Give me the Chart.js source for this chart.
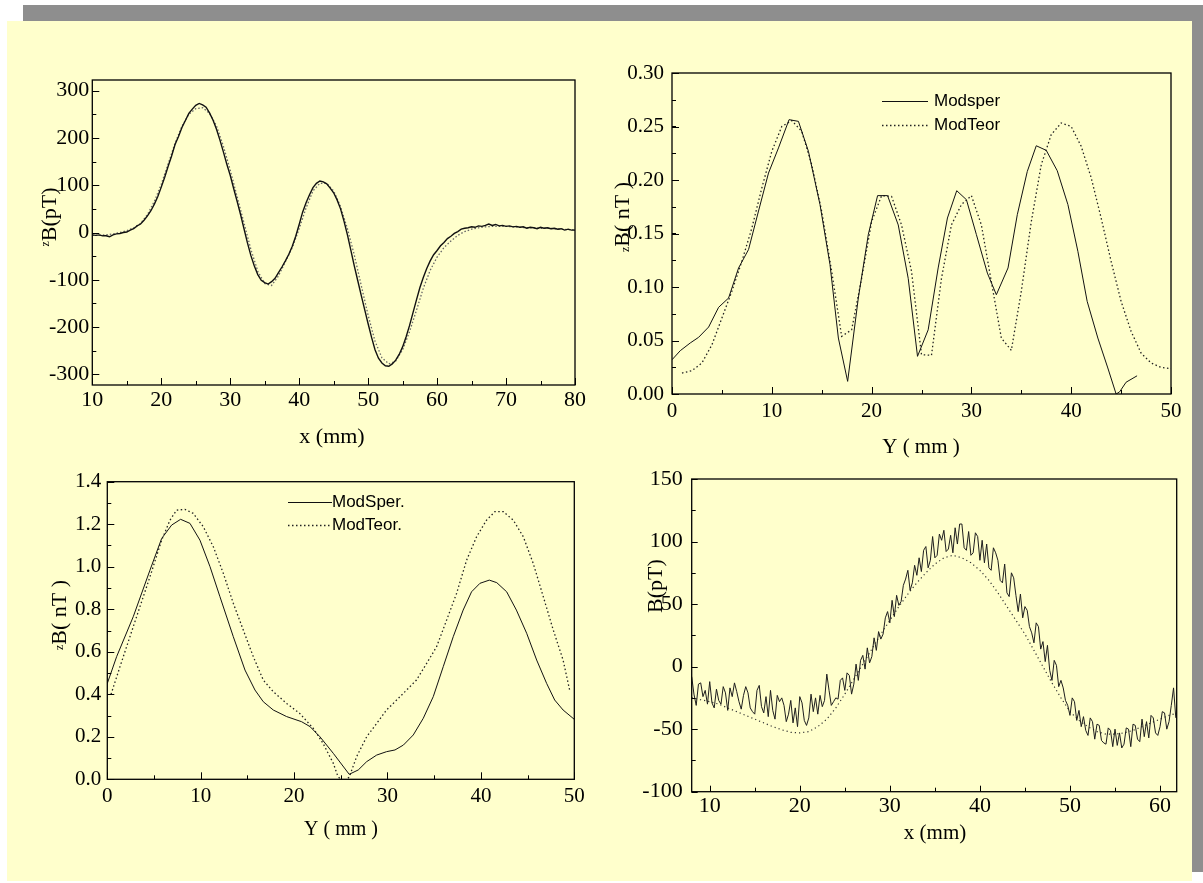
<!DOCTYPE html>
<html>
<head>
<meta charset="utf-8">
<script src="https://cdn.jsdelivr.net/npm/chart.js@4.4.0/dist/chart.umd.min.js"></script>
<style>
html,body{margin:0;padding:0;background:#ffffff;width:1203px;height:883px;overflow:hidden}
.bg{position:absolute}
canvas{position:absolute;left:0;top:0}
</style>
</head>
<body>
<div class="bg" style="left:7px;top:21px;width:1185px;height:860px;background:#FFFFCC"></div>
<div class="bg" style="left:23px;top:5px;width:1180px;height:16px;background:#8E8E8E"></div>
<div class="bg" style="left:1192px;top:5px;width:11px;height:867px;background:#8E8E8E"></div>
<canvas id="c1" width="1203" height="883"></canvas>
<canvas id="c2" width="1203" height="883"></canvas>
<canvas id="c3" width="1203" height="883"></canvas>
<canvas id="c4" width="1203" height="883"></canvas>
<script>
// ---------- Chart 1 (top-left): zB(pT) vs x (mm) ----------
const c1Start = 10, c1Step = 0.5;
const c1Measured = [
  -5,-6,-5,-7,-7,-9,-5,-3,-2,0,
  1,5,8,14,18,26,35,46,60,76,
  96,117,140,162,186,203,222,237,252,261,
  269,273,270,265,253,238,219,196,171,145,
  121,93,66,38,8,-22,-49,-71,-89,-101,
  -106,-109,-104,-97,-85,-73,-60,-46,-29,-8,
  17,43,63,80,95,104,109,107,103,94,
  84,69,50,24,-5,-38,-71,-102,-133,-163,
  -193,-222,-248,-266,-276,-282,-283,-278,-270,-258,
  -242,-221,-197,-170,-143,-117,-95,-76,-60,-47,
  -38,-28,-21,-13,-8,-2,2,7,9,10,
  12,11,14,13,15,18,15,17,14,15,
  13,14,12,13,11,12,9,11,10,8,
  11,9,10,8,9,7,8,5,7,5,
  5
];
const c1TheoryStart = 10, c1TheoryStep = 1;
const c1Theory = [
  -6,-6,-5,-3,0,4,10,19,38,66,
  102,145,189,225,250,262,264,252,226,183,
  132,76,20,-36,-82,-108,-112,-92,-62,-32,
  8,52,88,104,104,88,55,8,-48,-112,
  -175,-230,-265,-278,-272,-248,-210,-165,-118,-80,
  -52,-32,-18,-6,2,7,10,12,13,13,
  13,12,11,10,10,9,9,8,7,6,
  6
];

// ---------- Chart 2 (top-right): zB(nT) vs Y (mm) ----------
const c2SperX = [0,0.83,1.83,2.67,3.67,4.67,5.67,6.67,7.67,8.67,
  9.67,10.67,11.73,12.67,13.67,14.83,15.83,16.67,17.6,18.67,
  19.67,20.6,21.6,22.67,23.67,24.6,25.67,26.67,27.6,28.53,
  29.5,30.5,31.6,32.5,33.67,34.6,35.6,36.5,37.5,38.6,
  39.67,40.67,41.6,42.67,43.67,44.5,44.85,45.5,46.6];
const c2SperY = [0.032,0.0405,0.0477,0.053,0.0626,0.081,0.0897,0.1178,0.135,0.171,
  0.2065,0.23,0.2564,0.2548,0.2268,0.177,0.121,0.0523,0.0118,0.0897,
  0.149,0.1854,0.1854,0.158,0.108,0.0352,0.06,0.1178,0.1645,0.19,
  0.1816,0.149,0.113,0.0928,0.1178,0.1676,0.208,0.232,0.2277,0.2087,
  0.177,0.1333,0.0866,0.0523,0.0243,0.0,0.002,0.011,0.017];
const c2TeorX = [1,2,3,4,5,6,7,8,9,10,11,12,13,14,15,16,17,18,19,20,
  21,22,23,24,25,26,27,28,29,30,31,32,33,34,35,36,37,38,39,40,
  41,42,43,44,45,46,47,48,49,50];
const c2TeorY = [0.0196,0.0218,0.029,0.046,0.071,0.096,0.124,0.155,0.1925,0.2268,
  0.25,0.2555,0.2455,0.2143,0.1707,0.1146,0.0539,0.06,0.108,0.161,
  0.1854,0.1847,0.158,0.1146,0.0368,0.0361,0.108,0.158,0.177,0.1854,
  0.158,0.105,0.0523,0.0408,0.096,0.161,0.2143,0.2424,0.2533,0.25,
  0.2315,0.2022,0.1645,0.124,0.0866,0.0586,0.0383,0.029,0.0249,0.0237];

// ---------- Chart 3 (bottom-left): zB(nT) vs Y (mm) ----------
const c3SperX = [0,1.0,2.78,4.57,5.82,6.89,7.85,8.85,9.92,11.0,
  12.06,13.49,14.74,15.81,16.7,17.77,19.2,20.8,21.7,22.77,
  24.2,25.9,26.87,27.77,28.84,29.9,30.8,31.7,32.76,33.83,
  34.9,35.97,37.04,38.1,39.0,39.9,40.9,41.7,42.76,43.8,
  44.9,45.97,47.04,47.9,48.8,50];
const c3SperY = [0.451,0.577,0.765,0.984,1.133,1.196,1.223,1.204,1.125,1.0,
  0.859,0.671,0.514,0.42,0.365,0.326,0.295,0.271,0.248,0.2,
  0.122,0.0235,0.044,0.083,0.114,0.13,0.138,0.161,0.2085,0.287,
  0.389,0.53,0.671,0.796,0.882,0.922,0.937,0.925,0.882,0.796,
  0.687,0.561,0.451,0.373,0.326,0.282];
const c3TeorX = [0.4,1.36,2.78,4.57,5.82,6.71,7.42,8.3,9.2,10.28,
  11.35,12.42,13.49,14.56,15.63,16.7,17.77,19.2,20.6,22.05,
  23.1,24.2,24.7,25.3,25.9,26.7,27.77,28.84,29.9,30.98,
  32.05,33.1,34.19,35.26,36.33,37.4,38.47,39.54,40.6,41.5,
  42.4,43.47,44.54,45.6,46.68,47.75,48.8,49.5];
const c3TeorY = [0.40,0.53,0.718,0.953,1.125,1.219,1.266,1.27,1.251,1.188,
  1.094,0.969,0.828,0.702,0.577,0.467,0.412,0.357,0.31,0.24,
  0.169,0.075,0.0125,-0.01,0.01,0.107,0.2,0.263,0.326,0.373,
  0.42,0.467,0.545,0.624,0.749,0.875,1.031,1.141,1.219,1.259,
  1.259,1.219,1.141,1.016,0.859,0.702,0.561,0.42];

// ---------- Chart 4 (bottom-right): B(pT) vs x (mm) ----------
const c4Start = 8, c4Step = 0.25;
const c4Measured = [
  -8,-22,-31,-14,  -13,-24,-19,-30,  -12,-29,-33,-18,  -27,-30,-16,-21,
  -35,-17,-24,-13, -20,-28,-34,-23,  -16,-21,-33,-36,  -38,-19,-15,-32,
  -37,-24,-40,-19, -35,-42,-23,-28,  -25,-31,-44,-38,  -27,-45,-33,-48,
  -24,-29,-43,-47, -41,-22,-36,-25,  -38,-23,-32,-27,  -6,-19,-31,-28,
  -25,-26,-11,-9,  -19,-5,-7,-22,    -14,2,-11,5,      9,-2,15,3,
  8,23,13,28,      22,26,39,44,      35,53,40,57,      49,52,65,70,
  77,61,67,81,     73,87,76,93,      96,79,85,104,     87,89,106,101,
  109,92,94,105,   91,111,98,114,    114,95,93,108,    89,91,107,104,
  85,101,83,98,    79,77,95,91,      85,69,67,82,      59,56,75,71,
  57,44,58,39,     48,45,32,27,      19,35,32,14,      20,4,17,-3,
  -11,5,1,-16,     -11,-17,-27,-31,  -39,-25,-28,-43,  -35,-48,-40,-51,
  -55,-41,-44,-58, -46,-47,-59,-61,  -62,-49,-51,-64,  -50,-63,-53,-65,
  -62,-49,-50,-64, -46,-47,-58,-60,  -42,-56,-44,-57,  -39,-41,-53,-55,
  -48,-36,-37,-50, -44,-31,-17,-41
];
const c4TheoryStart = 8, c4TheoryStep = 1;
const c4Theory = [
  -25,-26.5,-28,-30,-33,-36,-39,-42,-45,-48,
  -50.5,-52.5,-53,-52,-48,-42,-33,-22,-10,2,
  14,26,37,48,58,67,75,82,87,89,
  87,83,77,69,59,48,37,26,13,0,
  -13,-25,-36,-43,-48,-52,-54,-54,-53,-51,
  -48,-45,-42,-39,-37
];

// ---------- helpers ----------
const W = 1203, H = 883;
const SERIF = '"Liberation Serif", "Times New Roman", serif';
const SANS = '"Liberation Sans", Arial, sans-serif';
function pairs(xs, ys) { return ys.map((y, i) => ({ x: xs[i], y: y })); }
function grid(start, step, ys) { return ys.map((y, i) => ({ x: start + i * step, y: y })); }

const framePlugin = {
  id: 'frame',
  afterDraw(chart, args, o) {
    const ctx = chart.ctx, a = chart.chartArea;
    const xs = chart.scales.x, ys = chart.scales.y;
    ctx.save();
    ctx.strokeStyle = '#000';
    ctx.lineWidth = 1;
    ctx.beginPath();
    const seg = (x1, y1, x2, y2) => { ctx.moveTo(x1, y1); ctx.lineTo(x2, y2); };
    xs.ticks.forEach(t => { const p = Math.round(xs.getPixelForValue(t.value)) + 0.5; seg(p, a.bottom, p, a.bottom - o.major); });
    ys.ticks.forEach(t => { const p = Math.round(ys.getPixelForValue(t.value)) + 0.5; seg(a.left, p, a.left + o.major, p); });
    for (let i = Math.ceil(xs.min / o.minorX - 1e-6); i * o.minorX <= xs.max + 1e-6; i++) {
      const p = Math.round(xs.getPixelForValue(i * o.minorX)) + 0.5; seg(p, a.bottom, p, a.bottom - o.minor);
    }
    for (let i = Math.ceil(ys.min / o.minorY - 1e-6); i * o.minorY <= ys.max + 1e-6; i++) {
      const p = Math.round(ys.getPixelForValue(i * o.minorY)) + 0.5; seg(a.left, p, a.left + o.minor, p);
    }
    ctx.stroke();
    ctx.lineWidth = o.frameWidth;
    ctx.strokeRect(a.left, a.top, a.right - a.left, a.bottom - a.top);

    ctx.fillStyle = '#000';
    // tick labels
    const fmtX = o.xDec ? (v => Number(v).toFixed(o.xDec)) : (v => String(v));
    const fmtY = o.yDec ? (v => Number(v).toFixed(o.yDec)) : (v => String(v));
    ctx.font = o.xFont + 'px ' + SERIF;
    ctx.textAlign = 'center';
    ctx.textBaseline = 'middle';
    xs.ticks.forEach(t => ctx.fillText(fmtX(t.value), xs.getPixelForValue(t.value), a.bottom + o.xLabelDy));
    ctx.font = o.yFont + 'px ' + SERIF;
    ctx.textAlign = 'right';
    ys.ticks.forEach(t => ctx.fillText(fmtY(t.value), a.left - o.yLabelPad, ys.getPixelForValue(t.value)));

    // x title
    const xt = o.xTitle;
    ctx.font = xt.size + 'px ' + SERIF;
    ctx.textAlign = 'center';
    ctx.textBaseline = 'middle';
    ctx.fillText(xt.text, xt.x, xt.y);
    // y title (rotated, with optional small z)
    const yt = o.yTitle;
    ctx.save();
    ctx.translate(yt.x, yt.y);
    ctx.rotate(-Math.PI / 2);
    ctx.textAlign = 'left';
    ctx.textBaseline = 'alphabetic';
    const bigFont = yt.size + 'px ' + SERIF, smallFont = yt.subSize + 'px ' + SERIF;
    ctx.font = smallFont;
    const w1 = yt.sub ? ctx.measureText(yt.sub).width : 0;
    ctx.font = bigFont;
    const w2 = ctx.measureText(yt.text).width;
    const x0 = -(w1 + w2) / 2;
    const base = yt.size * 0.33;
    if (yt.sub) {
      ctx.font = smallFont;
      ctx.fillText(yt.sub, x0, yt.subDy + yt.subSize * 0.22);
    }
    ctx.font = bigFont;
    ctx.fillText(yt.text, x0 + w1, base);
    ctx.restore();
    // legend
    const lg = o.legend;
    if (lg && lg.show) {
      ctx.font = lg.size + 'px ' + SANS;
      ctx.textAlign = 'left';
      ctx.textBaseline = 'middle';
      chart.data.datasets.forEach((ds, i) => {
        const y = lg.ys[i];
        ctx.save();
        ctx.strokeStyle = ds.borderColor;
        ctx.lineWidth = ds.borderWidth;
        ctx.setLineDash(ds.borderDash || []);
        ctx.beginPath();
        ctx.moveTo(lg.x1, y + 0.5);
        ctx.lineTo(lg.x2, y + 0.5);
        ctx.stroke();
        ctx.restore();
        ctx.fillStyle = '#000';
        ctx.fillText(ds.label, lg.textX, y);
      });
    }
    ctx.restore();
  }
};

function makeChart(id, cfg) {
  const b = cfg.box;
  return new Chart(document.getElementById(id), {
    type: 'line',
    data: { datasets: cfg.datasets },
    options: {
      responsive: false,
      animation: false,
      devicePixelRatio: 1,
      events: [],
      layout: { padding: { left: b.left, top: b.top, right: W - b.right, bottom: H - b.bottom } },
      elements: { point: { radius: 0 }, line: { tension: 0 } },
      plugins: { legend: { display: false }, tooltip: { enabled: false }, frame: cfg.frame },
      scales: {
        x: {
          type: 'linear', min: cfg.x.min, max: cfg.x.max,
          grid: { display: false, drawTicks: false }, border: { display: false },
          ticks: { display: false, stepSize: cfg.x.step, includeBounds: false, autoSkip: false, maxRotation: 0 },
          afterFit: s => { s.height = 0; }
        },
        y: {
          type: 'linear', min: cfg.y.min, max: cfg.y.max,
          grid: { display: false, drawTicks: false }, border: { display: false },
          ticks: { display: false, stepSize: cfg.y.step, includeBounds: false, autoSkip: false },
          afterFit: s => { s.width = 0; }
        }
      }
    },
    plugins: [framePlugin]
  });
}

// Chart 1
makeChart('c1', {
  box: { left: 92.3, top: 80, right: 575, bottom: 385 },
  x: { min: 10, max: 80, step: 10 },
  y: { min: -322.6, max: 322.6, step: 100 },
  datasets: [
    { label: 'Misurato', data: grid(c1Start, c1Step, c1Measured), borderColor: '#111', borderWidth: 1.4 },
    { label: 'Teorico', data: grid(c1TheoryStart, c1TheoryStep, c1Theory), borderColor: '#666', borderWidth: 1.3, borderDash: [1.5, 2] }
  ],
  frame: { major: 7, minor: 4, minorX: 5, minorY: 50, frameWidth: 1.3,
    xFont: 22, yFont: 22, xLabelDy: 15, yLabelPad: 3, xDec: 0, yDec: 0,
    xTitle: { text: 'x (mm)', x: 332, y: 437, size: 22 },
    yTitle: { sub: 'z', text: 'B(pT)', x: 49, y: 217, size: 22, subSize: 12, subDy: -3 },
    legend: { show: false } }
});

// Chart 2
makeChart('c2', {
  box: { left: 672, top: 73, right: 1171, bottom: 394 },
  x: { min: 0, max: 50, step: 10 },
  y: { min: 0, max: 0.3, step: 0.05 },
  datasets: [
    { label: 'Modsper', data: pairs(c2SperX, c2SperY), borderColor: '#111', borderWidth: 1 },
    { label: 'ModTeor', data: pairs(c2TeorX, c2TeorY), borderColor: '#222', borderWidth: 1.3, borderDash: [1.5, 2.5] }
  ],
  frame: { major: 7, minor: 4, minorX: 5, minorY: 0.025, frameWidth: 1.3,
    xFont: 21, yFont: 21, xLabelDy: 17.7, yLabelPad: 8, xDec: 0, yDec: 2,
    xTitle: { text: 'Y ( mm )', x: 921, y: 447, size: 21 },
    yTitle: { sub: 'z', text: 'B( nT )', x: 622, y: 217, size: 22, subSize: 12, subDy: 4 },
    legend: { show: true, x1: 882, x2: 928, textX: 934, ys: [101, 125], size: 17 } }
});

// Chart 3
makeChart('c3', {
  box: { left: 107.3, top: 481.7, right: 574.3, bottom: 779.3 },
  x: { min: 0, max: 50, step: 10 },
  y: { min: 0, max: 1.4, step: 0.2 },
  datasets: [
    { label: 'ModSper.', data: pairs(c3SperX, c3SperY), borderColor: '#111', borderWidth: 1 },
    { label: 'ModTeor.', data: pairs(c3TeorX, c3TeorY), borderColor: '#222', borderWidth: 1.3, borderDash: [1.5, 2.5] }
  ],
  frame: { major: 7, minor: 4, minorX: 5, minorY: 0.1, frameWidth: 1.3,
    xFont: 21, yFont: 21, xLabelDy: 17.4, yLabelPad: 6, xDec: 0, yDec: 1,
    xTitle: { text: 'Y ( mm )', x: 341, y: 830, size: 20 },
    yTitle: { sub: 'z', text: 'B( nT )', x: 59, y: 615, size: 22, subSize: 12, subDy: 1 },
    legend: { show: true, x1: 288, x2: 332, textX: 332, ys: [502, 525], size: 17 } }
});

// Chart 4
makeChart('c4', {
  box: { left: 691.7, top: 479, right: 1176.7, bottom: 791.7 },
  x: { min: 8, max: 61.85, step: 10 },
  y: { min: -100, max: 150, step: 50 },
  datasets: [
    { label: 'Misurato', data: grid(c4Start, c4Step, c4Measured), borderColor: '#1e1e1e', borderWidth: 1 },
    { label: 'Teorico', data: grid(c4TheoryStart, c4TheoryStep, c4Theory), borderColor: '#333', borderWidth: 1.2, borderDash: [1.2, 3] }
  ],
  frame: { major: 6, minor: 4, minorX: 5, minorY: 25, frameWidth: 1.3,
    xFont: 22, yFont: 22, xLabelDy: 15, yLabelPad: 9, xDec: 0, yDec: 0,
    xTitle: { text: 'x (mm)', x: 935, y: 833, size: 21 },
    yTitle: { sub: '', text: 'B(pT)', x: 655, y: 586, size: 22, subSize: 12, subDy: 0 },
    legend: { show: false } }
});
</script>
</body>
</html>
